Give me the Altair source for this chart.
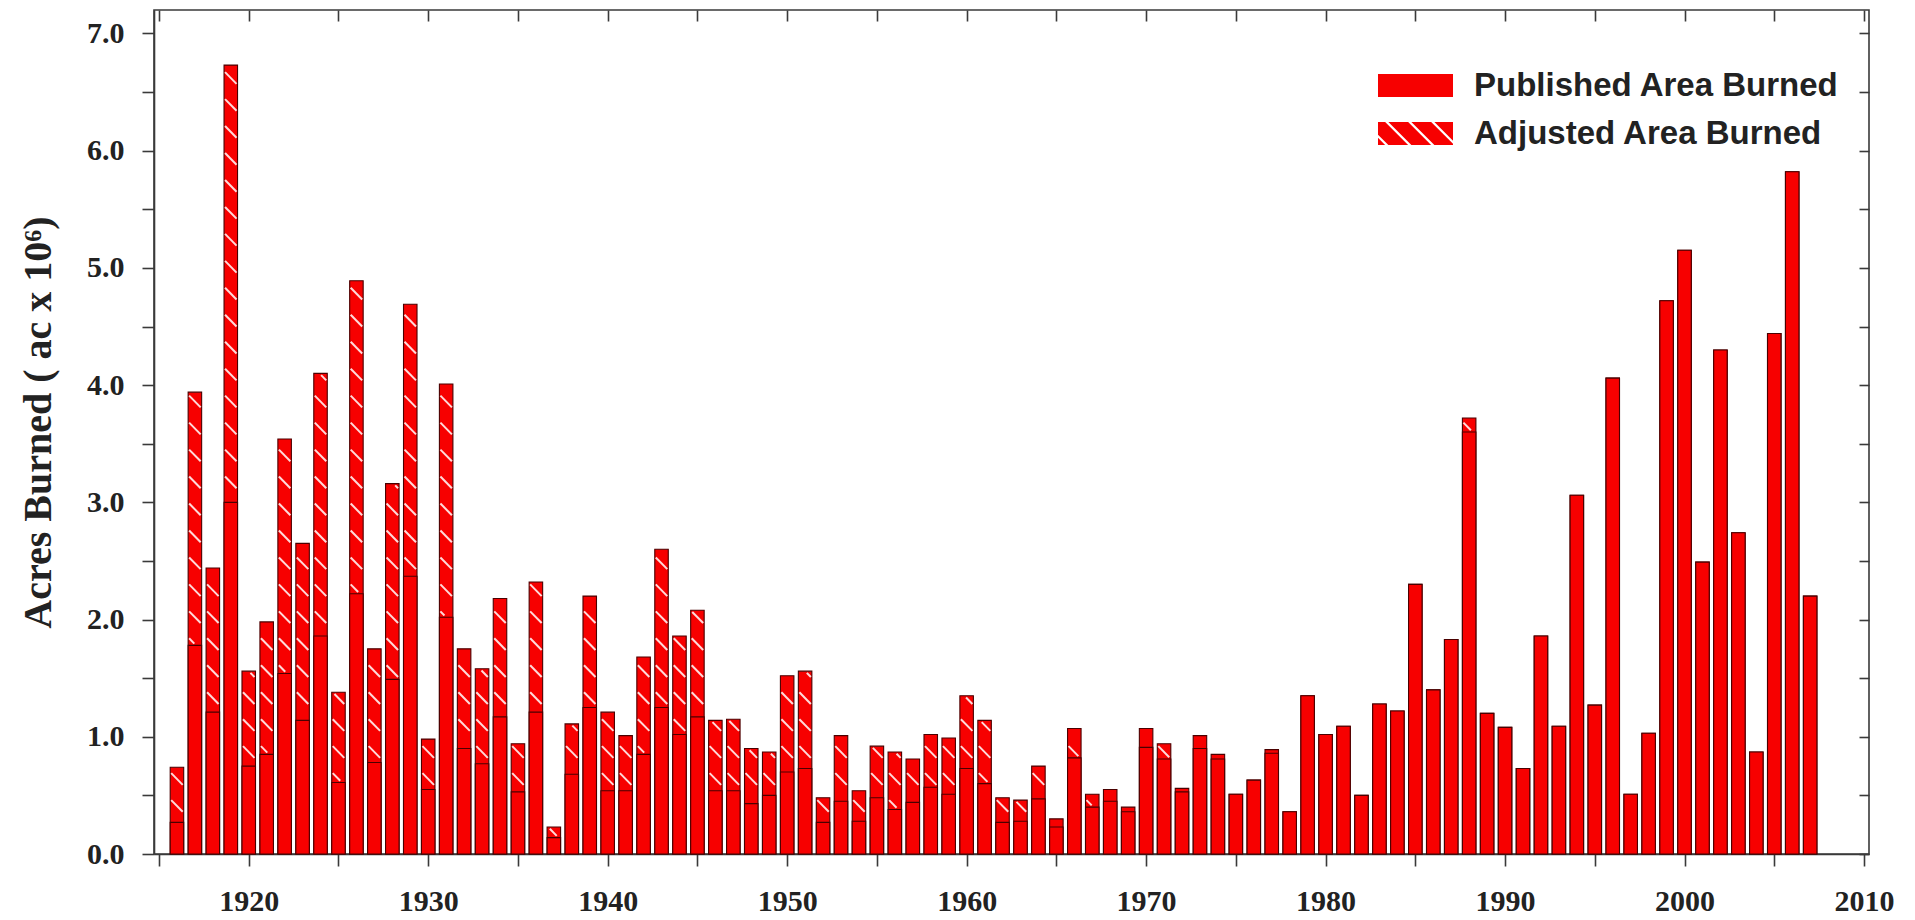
import altair as alt
import pandas as pd

# ---------------- data ----------------
years = list(range(1916, 2008))

published = [
    0.27, 1.78, 1.21, 3.00, 0.75, 0.85, 1.54, 1.14, 1.86, 0.61,   # 1916-1925
    2.22, 0.78, 1.49, 2.37, 0.55, 2.02, 0.90, 0.77, 1.17, 0.53,   # 1926-1935
    1.21, 0.14, 0.68, 1.25, 0.54, 0.54, 0.85, 1.25, 1.02, 1.17,   # 1936-1945
    0.54, 0.54, 0.43, 0.50, 0.70, 0.73, 0.27, 0.45, 0.28, 0.48,   # 1946-1955
    0.38, 0.44, 0.57, 0.51, 0.73, 0.60, 0.27, 0.28, 0.47, 0.23,   # 1956-1965
    0.82, 0.40, 0.45, 0.36, 0.91, 0.81, 0.53, 0.90, 0.81, 0.51,   # 1966-1975
    0.63, 0.86, 0.36, 1.35, 1.02, 1.09, 0.50, 1.28, 1.22, 2.30,   # 1976-1985
    1.40, 1.83, 3.60, 1.20, 1.08, 0.73, 1.86, 1.09, 3.06, 1.27,   # 1986-1995
    4.06, 0.51, 1.03, 4.72, 5.15, 2.49, 4.30, 2.74, 0.87, 4.44,   # 1996-2005
    5.82, 2.20,                                                   # 2006-2007
]

adjusted = [
    0.74, 3.94, 2.44, 6.73, 1.56, 1.98, 3.54, 2.65, 4.10, 1.38,   # 1916-1925
    4.89, 1.75, 3.16, 4.69, 0.98, 4.01, 1.75, 1.58, 2.18, 0.94,   # 1926-1935
    2.32, 0.23, 1.11, 2.20, 1.21, 1.01, 1.68, 2.60, 1.86, 2.08,   # 1936-1945
    1.14, 1.15, 0.90, 0.87, 1.52, 1.56, 0.48, 1.01, 0.54, 0.92,   # 1946-1955
    0.87, 0.81, 1.02, 0.99, 1.35, 1.14, 0.48, 0.46, 0.75, 0.30,   # 1956-1965
    1.07, 0.51, 0.55, 0.40, 1.07, 0.94, 0.56, 1.01, 0.85, 0.51,   # 1966-1975
    0.63, 0.89, 0.36, 1.35, 1.02, 1.09, 0.50, 1.28, 1.22, 2.30,   # 1976-1985
    1.40, 1.83, 3.72, 1.20, 1.08, 0.73, 1.86, 1.09, 3.06, 1.27,   # 1986-1995
    4.06, 0.51, 1.03, 4.72, 5.15, 2.49, 4.30, 2.74, 0.87, 4.44,   # 1996-2005
    5.82, 2.20,                                                   # 2006-2007
]

series_names = ["Published Area Burned", "Adjusted Area Burned"]
x_ticks = list(range(1915, 2011, 5))
y_ticks = [i * 0.5 for i in range(0, 15)]

# ---------------- style ----------------
RED = "#f70000"
EDGE = "#4a0000"
HATCH = "#ffdada"
FRAME = "#3a3a3a"
SERIF = "Liberation Serif"
SANS = "Liberation Sans"
BAR_W = 13.5

df = pd.DataFrame({"year": years, "published": published, "adjusted": adjusted})

long_rows = []
for y, a, p in zip(years, adjusted, published):
    long_rows.append({"year": y, "value": a, "series": series_names[1]})
    long_rows.append({"year": y, "value": p, "series": series_names[0]})
df_long = pd.DataFrame(long_rows)

# hatch segments inside the adjusted-only part of each bar
step, drop, hw = 0.23, 0.10, 0.32
hatch_rows = []
for y, a, p in zip(years, adjusted, published):
    lo, hi = p + 0.015, a - 0.015
    if hi - lo < 0.03:
        continue
    k0 = int(lo / step) - 1
    k1 = int(hi / step) + 2
    for k in range(k0, k1):
        yt = k * step
        t0 = max(0.0, (yt - hi) / drop)
        t1 = min(1.0, (yt - lo) / drop)
        if t1 - t0 > 0.2:
            hatch_rows.append({
                "hx": y - hw + 2 * hw * t0, "hy": yt - drop * t0,
                "hx2": y - hw + 2 * hw * t1, "hy2": yt - drop * t1,
            })
df_hatch = pd.DataFrame(hatch_rows)

# legend symbols (custom SVG paths)
S = 23.0                 # symbol nominal size in px
HX = 75.0 / S            # half-width in symbol units (75px wide)
solid_path = f"M{-HX:.3f},-1L{HX:.3f},-1L{HX:.3f},1L{-HX:.3f},1Z"


def clip(poly, a, b):
    """Clip polygon to a <= x - y <= b."""
    def clip_half(pts, f):
        out = []
        n = len(pts)
        for i in range(n):
            P, Q = pts[i], pts[(i + 1) % n]
            fp, fq = f(P), f(Q)
            if fp >= 0:
                out.append(P)
            if (fp >= 0) != (fq >= 0):
                t = fp / (fp - fq)
                out.append((P[0] + t * (Q[0] - P[0]), P[1] + t * (Q[1] - P[1])))
        return out
    pts = clip_half(poly, lambda q: (q[0] - q[1]) - a)
    if pts:
        pts = clip_half(pts, lambda q: b - (q[0] - q[1]))
    return pts


rect = [(-HX, -1.0), (HX, -1.0), (HX, 1.0), (-HX, 1.0)]
centers = [-3.5, -1.5, 0.5, 2.5]
gap = 0.28
bounds = [-10.0] + [c for c in centers for _ in (0, 1)] + [10.0]
pieces = []
for i in range(0, len(bounds), 2):
    a = bounds[i] + (gap / 2 if i > 0 else 0)
    b = bounds[i + 1] - (gap / 2 if i + 1 < len(bounds) - 1 else 0)
    pts = clip(rect, a, b)
    if len(pts) >= 3:
        pieces.append("M" + "L".join(f"{x:.3f},{y:.3f}" for x, y in pts) + "Z")
hatched_path = "".join(pieces)

xscale = alt.Scale(domain=[1915, 2010], nice=False, zero=False)
yscale = alt.Scale(domain=[0, 7.2], nice=False)

bottom_axis = alt.Axis(
    values=x_ticks, title=None, grid=False,
    labelExpr="datum.value % 10 == 0 ? datum.value : ''",
    tickSize=12, labelPadding=20, labelFont=SERIF, labelFontSize=30,
    labelFontWeight="bold", labelColor="#222", labelFlush=False,
    labelOverlap=False,
)
left_axis = alt.Axis(
    values=y_ticks, title="Acres Burned ( ac x 10\u2076)", grid=False,
    labelExpr="datum.value % 1 == 0 ? format(datum.value, '.1f') : ''",
    tickSize=12, labelPadding=18, labelFont=SERIF, labelFontSize=30,
    labelFontWeight="bold", labelColor="#222", labelOverlap=False,
    titleFont=SERIF, titleFontSize=40, titleFontWeight="bold", titleColor="#222",
    titleX=-104, titleY=412, titleBaseline="alphabetic", titleAngle=270,
)
top_axis = alt.Axis(
    orient="top", values=x_ticks, title=None, labels=False, grid=False,
    domain=False, tickSize=11, offset=-11,
)
right_axis = alt.Axis(
    orient="right", values=y_ticks, title=None, labels=False, grid=False,
    domain=False, tickSize=10, offset=-10,
)

adj_bars = alt.Chart(df).mark_bar(
    width=BAR_W, color=RED, stroke=EDGE, strokeWidth=1.1
).encode(
    x=alt.X("year:Q", scale=xscale, axis=bottom_axis),
    y=alt.Y("adjusted:Q", scale=yscale, axis=left_axis),
)

hatch = alt.Chart(df_hatch).mark_rule(color=HATCH, strokeWidth=2.0).encode(
    x=alt.X("hx:Q", scale=xscale, axis=None),
    x2="hx2:Q",
    y=alt.Y("hy:Q", scale=yscale, axis=None),
    y2="hy2:Q",
)

pub_bars = alt.Chart(df).mark_bar(
    width=BAR_W, color=RED, stroke=EDGE, strokeWidth=1.1
).encode(
    x=alt.X("year:Q", scale=xscale, axis=top_axis),
    y=alt.Y("published:Q", scale=yscale, axis=right_axis),
)

legend_pts = alt.Chart(df_long).mark_point(
    filled=True, color=RED, opacity=0
).encode(
    x=alt.X("year:Q", scale=xscale, axis=None),
    y=alt.Y("value:Q", scale=yscale, axis=None),
    shape=alt.Shape(
        "series:N",
        scale=alt.Scale(domain=series_names, range=[solid_path, hatched_path]),
        sort=series_names,
        legend=alt.Legend(
            title=None, orient="none", legendX=1245, legendY=59,
            symbolSize=S * S, symbolOpacity=1, symbolStrokeWidth=0,
            symbolFillColor=RED, labelOffset=42,
            labelFont=SANS, labelFontSize=33, labelFontWeight="bold",
            labelColor="#222", labelLimit=600, rowPadding=14,
        ),
    ),
)

chart = alt.layer(adj_bars, hatch, pub_bars, legend_pts).resolve_axis(
    x="independent", y="independent"
).properties(
    width=1715, height=844,
    padding={"left": 10, "top": 1, "right": 5, "bottom": 0},
    background="white",
).configure_view(
    stroke=FRAME, strokeWidth=1.6
).configure_axis(
    domainColor=FRAME, domainWidth=1.6, tickColor=FRAME, tickWidth=1.6,
)

chart.save("out.html", embed_options={"renderer": "svg", "actions": False})
